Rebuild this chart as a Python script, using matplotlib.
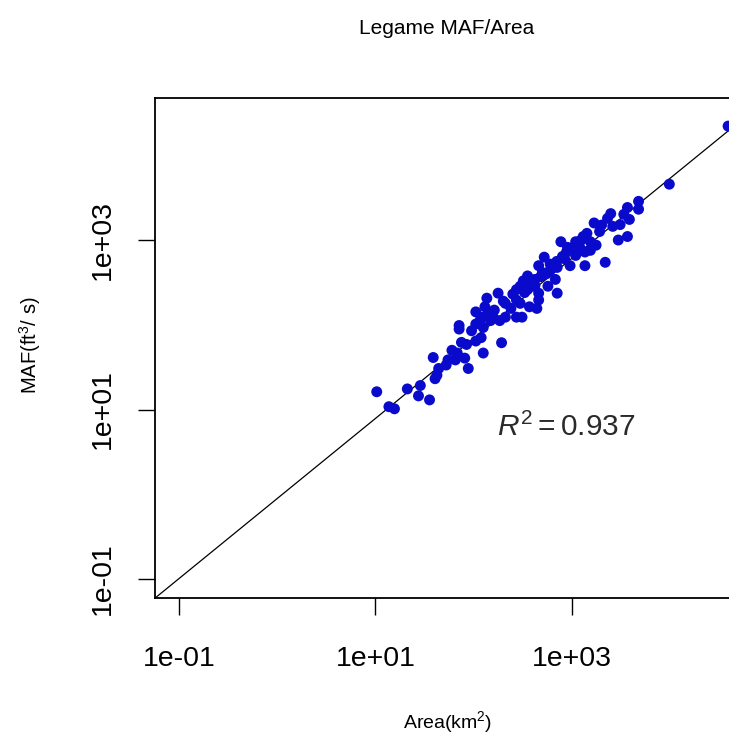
"""Log-log scatter of MAF against catchment area, with regression line."""

import matplotlib
matplotlib.use("Agg")
import matplotlib.pyplot as plt
import numpy as np

plt.rcParams["font.family"] = ["Liberation Sans", "DejaVu Sans"]
plt.rcParams["mathtext.fontset"] = "custom"
plt.rcParams["mathtext.rm"] = "Liberation Sans"
plt.rcParams["mathtext.it"] = "Liberation Sans:italic"

# --- data ---
area_km2 = [
    38800, 9790, 4760, 4760, 3670, 3370, 2480, 3840, 3090, 2600,
    1680, 1910, 3670, 2960, 2180, 1420, 1540, 1240, 1090, 771,
    1760, 1355, 1540, 1000, 879, 1090, 1355, 957, 841, 707,
    594, 522, 458, 677, 707, 500, 420, 353, 403, 297,
    272, 353, 458, 569, 458, 439, 369, 297, 272, 239,
    310, 210, 177, 136, 162, 130, 105, 119, 148, 125,
    184, 210, 272, 105, 71, 71, 84.5, 105, 119, 125,
    192, 68, 81, 88, 65, 54.7, 52.4, 44, 42.2, 38.7,
    40.4, 21.1, 28.6, 27.4, 35.5, 10.3, 13.7, 15.6,
    320, 380, 250, 200, 600, 650, 800, 900, 1150, 1300,
    2000, 2300, 140, 160, 115, 95, 60, 75, 480, 550,
    330, 420, 1200, 700,
]
maf_cfs = [
    22100, 4560, 2860, 2310, 2420, 2010, 2050, 1750, 1520, 1450,
    1590, 1260, 1100, 1000, 546, 1200, 955, 1000, 955, 955,
    870, 722, 756, 792, 722, 658, 498, 498, 600, 475,
    433, 628, 498, 343, 236, 413, 343, 377, 285, 285,
    260, 260, 236, 285, 196, 156, 163, 179, 196, 156,
    123, 179, 236, 206, 149, 163, 142, 123, 112, 93,
    112, 123, 123, 102, 98, 89, 58.6, 64.3, 70.5, 46.4,
    61.4, 46.4, 40.4, 30.5, 38.5, 38.5, 33.5, 30.5, 25.4, 41.1,
    23.1, 17.5, 19.2, 14.5, 13.0, 16.2, 10.8, 10.2,
    330, 300, 230, 190, 520, 480, 640, 820, 900, 1100,
    1500, 1800, 135, 120, 110, 85, 50, 62, 370, 400,
    240, 290, 820, 560,
]

# regression in log10 space: log(MAF) = a + b log(Area)
fit_intercept = -0.05
fit_slope = 0.945
r_squared = 0.937

x_ticks = [1e-1, 1e1, 1e3]
x_tick_labels = ["1e-01", "1e+01", "1e+03"]
y_ticks = [1e-1, 1e1, 1e3]
y_tick_labels = ["1e-01", "1e+01", "1e+03"]

W, H = 729, 735
fig = plt.figure(figsize=(W / 100, H / 100), dpi=100)
ax = fig.add_axes([155 / W, 1 - 598 / H, (739 - 155) / W, (598 - 98) / H])
ax.set_xscale("log")
ax.set_yscale("log")
ax.set_xlim(10 ** -1.244, 10 ** 4.70)
ax.set_ylim(10 ** -1.224, 10 ** 4.676)

# regression line across the whole plot
xs = np.logspace(-1.3, 4.8, 50)
ax.plot(xs, 10 ** (fit_intercept + fit_slope * np.log10(xs)), color="black", lw=0.9, zorder=2)

ax.scatter(area_km2, maf_cfs, s=62, color="#0a0acc", edgecolors="none", zorder=3)

ax.text(172, 6.1, rf"$R^2 = {r_squared}$", fontsize=21.5, color="#2a2a2a",
        ha="left", va="center")

ax.set_xticks(x_ticks)
ax.set_xticklabels(x_tick_labels)
ax.set_yticks(y_ticks)
ax.set_yticklabels(y_tick_labels, rotation=90, va="center")
ax.minorticks_off()
ax.tick_params(axis="both", direction="out", length=12.5, width=1.0,
               labelsize=20.5, pad=16)
ax.tick_params(axis="x", pad=22)
for sp in ax.spines.values():
    sp.set_linewidth(1.3)

fig.text(447 / W, 1 - 28 / H, "Legame MAF/Area", ha="center", va="center", fontsize=15)
fig.text(448 / W, 1 - 722 / H, r"Area(km$^2$)", ha="center", va="center", fontsize=14)
fig.text(30 / W, 1 - 345 / H, r"MAF(ft$^3$/ s)", ha="center", va="center",
         rotation=90, fontsize=14.5)

fig.savefig("out.png", dpi=100)
